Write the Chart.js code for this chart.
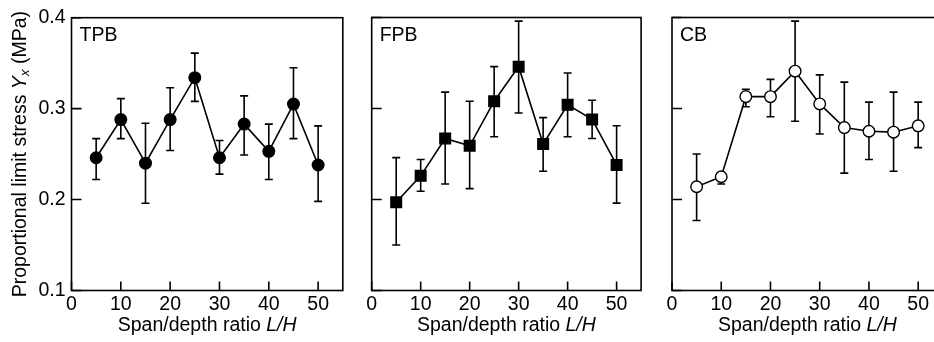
<!DOCTYPE html>
<html><head><meta charset="utf-8">
<script src="https://cdn.jsdelivr.net/npm/chart.js@4/dist/chart.umd.min.js"></script>
<style>
html,body{margin:0;padding:0;background:#fff;overflow:hidden;width:934px;height:342px;}
.p{position:absolute;top:0;height:342px;}
</style></head><body>
<div class="p" style="left:0;width:350px"><canvas id="c1"></canvas></div>
<div class="p" style="left:350px;width:300px"><canvas id="c2"></canvas></div>
<div class="p" style="left:650px;width:300px"><canvas id="c3"></canvas></div>
<script>
const spanRatio = [5,10,15,20,25,30,35,40,45,50];
const xTicks = [0,10,20,30,40,50];
const yTicks = [0.1,0.2,0.3,0.4];

const tpbMean = [0.246,0.288,0.240,0.288,0.334,0.246,0.283,0.253,0.305,0.238];
const tpbHigh = [0.267,0.311,0.284,0.323,0.361,0.265,0.314,0.283,0.345,0.281];
const tpbLow  = [0.222,0.267,0.196,0.254,0.308,0.228,0.249,0.222,0.267,0.198];

const fpbMean = [0.197,0.226,0.267,0.259,0.308,0.346,0.261,0.304,0.288,0.238];
const fpbHigh = [0.246,0.244,0.318,0.308,0.346,0.396,0.290,0.339,0.309,0.281];
const fpbLow  = [0.150,0.209,0.217,0.212,0.269,0.295,0.231,0.269,0.267,0.196];

const cbMean = [0.214,0.225,0.313,0.313,0.341,0.305,0.279,0.275,0.274,0.281];
const cbHigh = [0.250,0.228,0.321,0.332,0.396,0.337,0.329,0.307,0.318,0.307];
const cbLow  = [0.177,0.217,0.302,0.291,0.286,0.272,0.229,0.244,0.231,0.257];

const FONT = '"Liberation Sans", Arial, Helvetica, sans-serif';
const FS = 19.5;

function makeChart(id, label, mean, hi, lo, opts){
  const boxPlugin = {
    id:'box'+id,
    beforeDatasetsDraw(chart){
      const {ctx, chartArea:a, scales:{x,y}} = chart;
      ctx.save();
      ctx.strokeStyle='#000'; ctx.lineWidth=1.6;
      ctx.strokeRect(a.left, a.top, a.right-a.left, a.bottom-a.top);
      ctx.beginPath();
      xTicks.forEach(v=>{const px=x.getPixelForValue(v); ctx.moveTo(px,a.bottom); ctx.lineTo(px,a.bottom-9);});
      yTicks.forEach(v=>{const py=y.getPixelForValue(v); ctx.moveTo(a.left,py); ctx.lineTo(a.left+10,py);});
      ctx.stroke();
      ctx.lineWidth=1.6;
      ctx.beginPath();
      spanRatio.forEach((v,i)=>{
        const px=x.getPixelForValue(v), pt=y.getPixelForValue(hi[i]), pb=y.getPixelForValue(lo[i]);
        ctx.moveTo(px,pt); ctx.lineTo(px,pb);
        ctx.moveTo(px-4,pt); ctx.lineTo(px+4,pt);
        ctx.moveTo(px-4,pb); ctx.lineTo(px+4,pb);
      });
      ctx.stroke();
      ctx.restore();
    },
    afterDraw(chart){
      const {ctx, chartArea:a} = chart;
      ctx.save();
      ctx.fillStyle='#000';
      ctx.font = FS+'px '+FONT;
      ctx.textBaseline='middle'; ctx.textAlign='left';
      ctx.fillText(label, a.left+8, a.top+18);
      const t1='Span/depth ratio ', t2='L/H';
      ctx.font = FS+'px '+FONT; const w1=ctx.measureText(t1).width;
      ctx.font = 'italic '+FS+'px '+FONT; const w2=ctx.measureText(t2).width;
      let sx=(a.left+a.right)/2-(w1+w2)/2;
      ctx.font = FS+'px '+FONT; ctx.fillText(t1,sx,326);
      ctx.font = 'italic '+FS+'px '+FONT; ctx.fillText(t2,sx+w1,326);
      if(opts.yTitle){
        ctx.translate(21,(a.top+a.bottom)/2);
        ctx.rotate(-Math.PI/2);
        const parts=[
          {t:'Proportional limit stress ',f:FS+'px '+FONT,dy:0},
          {t:'Y',f:'italic '+FS+'px '+FONT,dy:0},
          {t:'x',f:'italic 13.5px '+FONT,dy:4},
          {t:' (MPa)',f:FS+'px '+FONT,dy:0}
        ];
        let tot=0; parts.forEach(p=>{ctx.font=p.f; p.w=ctx.measureText(p.t).width; tot+=p.w;});
        let cx=-tot/2;
        parts.forEach(p=>{ctx.font=p.f; ctx.fillText(p.t,cx,p.dy); cx+=p.w;});
      }
      ctx.restore();
    }
  };
  return new Chart(document.getElementById(id), {
    type:'line',
    data:{datasets:[{
      data: spanRatio.map((v,i)=>({x:v,y:mean[i]})),
      borderColor:'#000', borderWidth:1.6,
      pointStyle: opts.pointStyle,
      pointRadius: opts.radius, pointHoverRadius: opts.radius,
      pointBackgroundColor: opts.fill, pointBorderColor:'#000', pointBorderWidth:1.4,
      tension:0
    }]},
    options:{
      responsive:true, maintainAspectRatio:false, animation:false,
      events:[],
      layout:{padding:{top:17.5,right:opts.padRight,left:0,bottom:0}},
      plugins:{legend:{display:false},tooltip:{enabled:false}},
      scales:{
        x:{type:'linear',min:0,max:55,
          grid:{display:false,drawTicks:false}, border:{display:false},
          ticks:{stepSize:10,includeBounds:false,color:'#000',padding:2,maxRotation:0,
                 font:{family:FONT,size:FS}},
          afterFit(s){s.height=342-290.5;}
        },
        y:{type:'linear',min:0.1,max:0.4,
          grid:{display:false,drawTicks:false}, border:{display:false},
          ticks:{stepSize:0.1,display:opts.yTicks,color:'#000',padding:6,
                 font:{family:FONT,size:FS},callback:v=>v.toFixed(1)},
          afterFit(s){s.width=opts.yWidth;}
        }
      }
    },
    plugins:[boxPlugin]
  });
}

makeChart('c1','TPB',tpbMean,tpbHigh,tpbLow,{pointStyle:'circle',radius:5.8,fill:'#000',padRight:5.5,yWidth:71.5,yTicks:true,yTitle:true});
makeChart('c2','FPB',fpbMean,fpbHigh,fpbLow,{pointStyle:'rect',radius:7.5,fill:'#000',padRight:5,yWidth:21.7,yTicks:false,yTitle:false});
makeChart('c3','CB',cbMean,cbHigh,cbLow,{pointStyle:'circle',radius:5.8,fill:'#fff',padRight:4,yWidth:22,yTicks:false,yTitle:false});
</script>
</body></html>
